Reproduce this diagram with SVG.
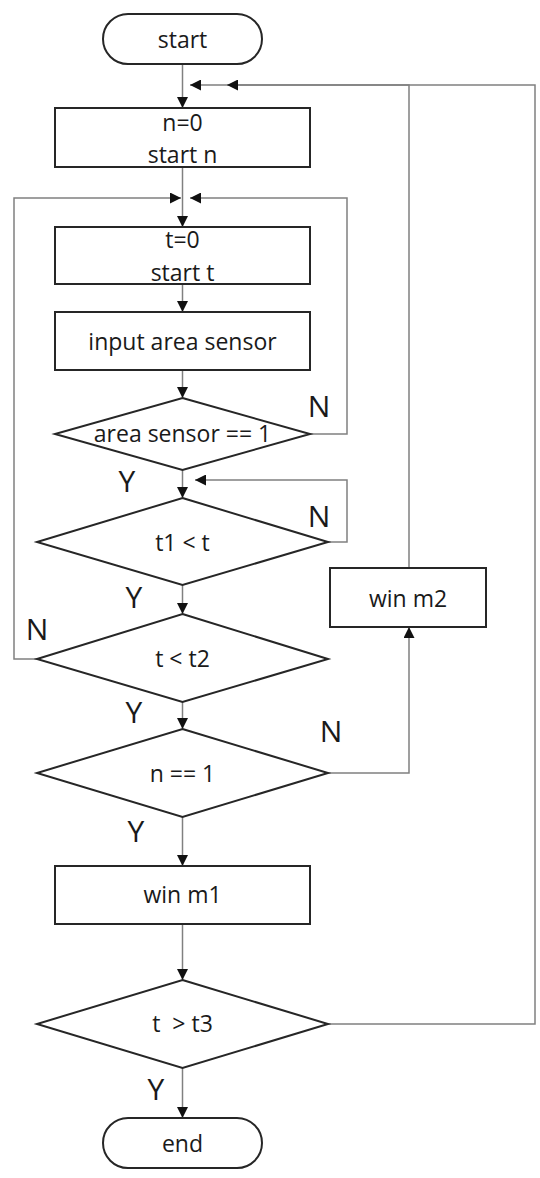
<svg xmlns="http://www.w3.org/2000/svg" width="540" height="1178" viewBox="0 0 540 1178">
<style>
.n{fill:#fff;stroke:#262626;stroke-width:2}
.t{font-family:"Open Sans","DejaVu Sans",sans-serif;font-size:23px;fill:#1a1a1a;text-anchor:middle}
.l{font-family:"Open Sans","DejaVu Sans",sans-serif;font-size:30px;fill:#1a1a1a;text-anchor:middle}
.c{fill:none;stroke:#808080;stroke-width:1.5}
</style>
<defs>
<marker id="a" markerUnits="userSpaceOnUse" markerWidth="11" markerHeight="11" refX="11" refY="5.5" orient="auto" viewBox="0 0 11 11">
<path d="M0,0 L11,5.5 L0,11 z" fill="#111"/>
</marker>
</defs>
<rect width="540" height="1178" fill="#fff"/>
<g id="connectors">
<path class="c" d="M182.5,64 V108" marker-end="url(#a)"/>
<path class="c" d="M182.5,167 V227" marker-end="url(#a)"/>
<path class="c" d="M182.5,284 V312" marker-end="url(#a)"/>
<path class="c" d="M182.5,370 V398" marker-end="url(#a)"/>
<path class="c" d="M310,434 H347 V198 H190" marker-end="url(#a)"/>
<path class="c" d="M37,659 H14 V198 H181" marker-end="url(#a)"/>
<path class="c" d="M182.5,470 V498" marker-end="url(#a)"/>
<path class="c" d="M328,542 H347 V480 H195" marker-end="url(#a)"/>
<path class="c" d="M182.5,585 V614" marker-end="url(#a)"/>
<path class="c" d="M182.5,702 V729" marker-end="url(#a)"/>
<path class="c" d="M328,773 H409 V627" marker-end="url(#a)"/>
<path class="c" d="M409,568 V85 H190" marker-end="url(#a)"/>
<path class="c" d="M182.5,817 V866" marker-end="url(#a)"/>
<path class="c" d="M182.5,924 V980" marker-end="url(#a)"/>
<path class="c" d="M328,1024 H535 V85 H227" marker-end="url(#a)"/>
<path class="c" d="M182.5,1068 V1118" marker-end="url(#a)"/>
</g>
<g id="start"><rect class="n" x="103" y="14" width="159" height="50" rx="25"/><text class="t" x="182.5" y="48">start</text></g>
<g id="init-n"><rect class="n" x="55" y="108" width="255" height="59"/><text class="t" x="182.5" y="131">n=0</text><text class="t" x="182.5" y="163">start n</text></g>
<g id="init-t"><rect class="n" x="55" y="227" width="255" height="57"/><text class="t" x="182.5" y="248">t=0</text><text class="t" x="182.5" y="281">start t</text></g>
<g id="input"><rect class="n" x="55" y="312" width="255" height="58"/><text class="t" x="182.5" y="350">input area sensor</text></g>
<g id="d-area"><path class="n" d="M182.5,398 L310,434 L182.5,470 L55,434 Z"/><text class="t" x="182.5" y="442">area sensor == 1</text></g>
<g id="d-t1"><path class="n" d="M182.5,498 L328,542 L182.5,585 L37,542 Z"/><text class="t" x="182.5" y="551">t1 &lt; t</text></g>
<g id="d-t2"><path class="n" d="M182.5,614 L328,659 L182.5,702 L37,659 Z"/><text class="t" x="182.5" y="667">t &lt; t2</text></g>
<g id="d-n"><path class="n" d="M182.5,729 L328,773 L182.5,817 L37,773 Z"/><text class="t" x="182.5" y="782">n == 1</text></g>
<g id="win-m2"><rect class="n" x="330" y="568" width="156" height="59"/><text class="t" x="408" y="607">win m2</text></g>
<g id="win-m1"><rect class="n" x="55" y="866" width="255" height="58"/><text class="t" x="182.5" y="903">win m1</text></g>
<g id="d-t3"><path class="n" d="M182.5,980 L328,1024 L182.5,1068 L37,1024 Z"/><text class="t" x="182.5" y="1032" xml:space="preserve">t  &gt; t3</text></g>
<g id="end"><rect class="n" x="103" y="1118" width="159" height="50" rx="25"/><text class="t" x="182.5" y="1152">end</text></g>
<g id="labels">
<text class="l" x="319" y="417">N</text>
<text class="l" x="127" y="492">Y</text>
<text class="l" x="319" y="527">N</text>
<text class="l" x="134" y="608">Y</text>
<text class="l" x="37" y="640">N</text>
<text class="l" x="134" y="723">Y</text>
<text class="l" x="331" y="742">N</text>
<text class="l" x="136" y="842">Y</text>
<text class="l" x="156" y="1100">Y</text>
</g>
</svg>
